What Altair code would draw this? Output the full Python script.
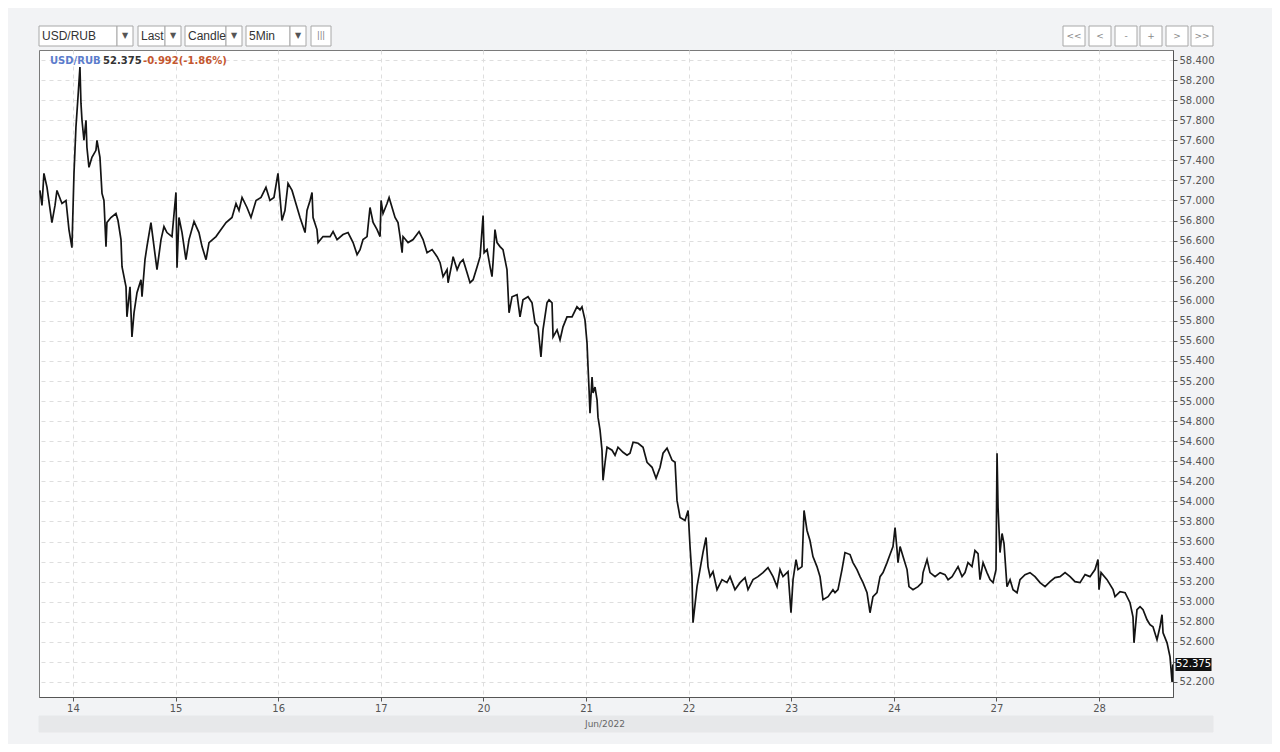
import json
import altair as alt
import pandas as pd

# ---------------- data (trading-day position, price) ----------------
day_pos = [
    -0.322, -0.302, -0.283, -0.253, -0.205, -0.175, -0.156, -0.107, -0.068, -0.039,
    -0.010, 0.010, 0.029, 0.049, 0.068, 0.078, 0.088, 0.107, 0.127, 0.136,
    0.156, 0.185, 0.224, 0.234, 0.263, 0.283, 0.302, 0.322, 0.331, 0.370,
    0.419, 0.439, 0.468, 0.478, 0.517, 0.526, 0.556, 0.575, 0.595, 0.624,
    0.663, 0.673, 0.702, 0.721, 0.760, 0.790, 0.819, 0.858, 0.887, 0.916,
    0.965, 1.004, 1.014, 1.033, 1.063, 1.101, 1.131, 1.180, 1.228, 1.258,
    1.297, 1.326, 1.394, 1.443, 1.492, 1.550, 1.589, 1.618, 1.648, 1.696,
    1.735, 1.784, 1.833, 1.881, 1.920, 1.959, 1.998, 2.037, 2.066, 2.096,
    2.135, 2.164, 2.213, 2.262, 2.281, 2.311, 2.330, 2.340, 2.378, 2.389,
    2.437, 2.506, 2.535, 2.574, 2.632, 2.681, 2.730, 2.769, 2.798, 2.827,
    2.866, 2.895, 2.925, 2.964, 2.993, 3.003, 3.022, 3.061, 3.081, 3.110,
    3.139, 3.168, 3.188, 3.208, 3.217, 3.266, 3.315, 3.373, 3.412, 3.451,
    3.500, 3.549, 3.578, 3.607, 3.646, 3.656, 3.695, 3.705, 3.744, 3.773,
    3.802, 3.841, 3.870, 3.900, 3.939, 3.968, 3.997, 4.007, 4.036, 4.065,
    4.084, 4.094, 4.113, 4.133, 4.162, 4.191, 4.230, 4.250, 4.279, 4.328,
    4.357, 4.386, 4.435, 4.474, 4.503, 4.532, 4.561, 4.581, 4.620, 4.640,
    4.669, 4.679, 4.718, 4.747, 4.776, 4.815, 4.864, 4.912, 4.942, 4.961,
    4.990, 5.010, 5.020, 5.030, 5.039, 5.059, 5.069, 5.088, 5.108, 5.117,
    5.137, 5.156, 5.166, 5.185, 5.205, 5.254, 5.283, 5.312, 5.361, 5.400,
    5.429, 5.459, 5.508, 5.556, 5.595, 5.644, 5.683, 5.722, 5.751, 5.790,
    5.839, 5.868, 5.887, 5.917, 5.965, 5.995, 6.014, 6.033, 6.043, 6.082,
    6.111, 6.140, 6.170, 6.189, 6.209, 6.238, 6.277, 6.326, 6.374, 6.404,
    6.452, 6.501, 6.550, 6.579, 6.628, 6.676, 6.725, 6.774, 6.823, 6.862,
    6.891, 6.920, 6.969, 6.998, 7.018, 7.047, 7.066, 7.105, 7.125, 7.154,
    7.183, 7.212, 7.251, 7.281, 7.310, 7.359, 7.407, 7.427, 7.456, 7.495,
    7.524, 7.573, 7.602, 7.641, 7.671, 7.700, 7.739, 7.768, 7.797, 7.836,
    7.866, 7.895, 7.934, 7.963, 7.992, 8.012, 8.031, 8.041, 8.061, 8.090,
    8.129, 8.148, 8.187, 8.236, 8.275, 8.285, 8.324, 8.353, 8.402, 8.451,
    8.499, 8.529, 8.568, 8.597, 8.626, 8.665, 8.694, 8.723, 8.762, 8.791,
    8.821, 8.840, 8.870, 8.908, 8.938, 8.967, 8.996, 9.006, 9.016, 9.035,
    9.055, 9.074, 9.103, 9.133, 9.162, 9.201, 9.230, 9.279, 9.327, 9.376,
    9.425, 9.474, 9.523, 9.571, 9.620, 9.669, 9.718, 9.766, 9.815, 9.864,
    9.912, 9.961, 9.990, 10.000, 10.020, 10.078, 10.137, 10.156, 10.205, 10.254,
    10.302, 10.331, 10.341, 10.370, 10.400, 10.429, 10.468, 10.497, 10.526, 10.565,
    10.594, 10.614, 10.624, 10.663, 10.692, 10.712, 10.720,
]
price = [
    57.10, 56.95, 57.27, 57.13, 56.78, 56.95, 57.10, 56.97, 57.00, 56.71,
    56.53, 57.27, 57.73, 58.03, 58.33, 57.97, 57.80, 57.60, 57.80, 57.53,
    57.33, 57.43, 57.50, 57.60, 57.43, 57.07, 57.00, 56.54, 56.78, 56.83,
    56.87, 56.80, 56.61, 56.34, 56.14, 55.84, 56.14, 55.64, 55.88, 56.08,
    56.21, 56.04, 56.41, 56.54, 56.78, 56.54, 56.31, 56.61, 56.74, 56.68,
    56.64, 57.08, 56.33, 56.83, 56.68, 56.41, 56.61, 56.79, 56.68, 56.54,
    56.41, 56.58, 56.64, 56.71, 56.78, 56.83, 56.97, 56.90, 57.03, 56.93,
    56.83, 57.00, 57.03, 57.13, 57.00, 57.03, 57.27, 56.80, 56.90, 57.17,
    57.10, 57.00, 56.83, 56.68, 56.90, 57.00, 57.08, 56.83, 56.71, 56.58,
    56.64, 56.64, 56.69, 56.61, 56.66, 56.68, 56.58, 56.46, 56.51, 56.61,
    56.64, 56.93, 56.78, 56.71, 56.64, 57.00, 56.87, 56.97, 57.03, 56.93,
    56.83, 56.78, 56.64, 56.48, 56.64, 56.58, 56.61, 56.69, 56.61, 56.48,
    56.51, 56.44, 56.38, 56.24, 56.31, 56.18, 56.38, 56.44, 56.31, 56.38,
    56.41, 56.28, 56.18, 56.21, 56.34, 56.44, 56.85, 56.48, 56.51, 56.34,
    56.24, 56.38, 56.71, 56.58, 56.54, 56.51, 56.31, 55.88, 56.04, 56.06,
    55.84, 56.01, 56.04, 55.98, 55.78, 55.74, 55.44, 55.71, 55.98, 56.01,
    55.98, 55.64, 55.71, 55.61, 55.74, 55.84, 55.84, 55.94, 55.91, 55.94,
    55.81, 55.58, 55.34, 55.11, 54.88, 55.24, 55.08, 55.14, 55.01, 54.84,
    54.71, 54.51, 54.21, 54.38, 54.54, 54.51, 54.46, 54.54, 54.49, 54.46,
    54.48, 54.59, 54.58, 54.54, 54.39, 54.34, 54.23, 54.34, 54.48, 54.53,
    54.41, 54.39, 54.01, 53.84, 53.81, 53.91, 53.55, 53.25, 52.79, 53.15,
    53.32, 53.49, 53.64, 53.35, 53.25, 53.30, 53.12, 53.22, 53.19, 53.25,
    53.12, 53.19, 53.24, 53.12, 53.22, 53.25, 53.29, 53.34, 53.25, 53.15,
    53.32, 53.25, 53.30, 52.89, 53.22, 53.42, 53.32, 53.35, 53.91, 53.71,
    53.61, 53.45, 53.35, 53.25, 53.02, 53.05, 53.12, 53.09, 53.12, 53.32,
    53.49, 53.47, 53.39, 53.32, 53.25, 53.19, 53.09, 52.89, 53.05, 53.09,
    53.25, 53.29, 53.39, 53.47, 53.55, 53.74, 53.52, 53.39, 53.55, 53.45,
    53.32, 53.15, 53.12, 53.15, 53.19, 53.29, 53.42, 53.29, 53.25, 53.29,
    53.27, 53.22, 53.25, 53.30, 53.35, 53.25, 53.29, 53.39, 53.35, 53.51,
    53.48, 53.22, 53.39, 53.29, 53.22, 53.19, 53.32, 54.48, 53.94, 53.49,
    53.68, 53.58, 53.15, 53.22, 53.12, 53.09, 53.22, 53.27, 53.29, 53.25,
    53.19, 53.15, 53.20, 53.24, 53.25, 53.29, 53.25, 53.20, 53.19, 53.27,
    53.25, 53.32, 53.42, 53.12, 53.29, 53.22, 53.12, 53.05, 53.10, 53.09,
    52.99, 52.85, 52.59, 52.92, 52.95, 52.92, 52.82, 52.77, 52.75, 52.62,
    52.75, 52.87, 52.69, 52.59, 52.45, 52.20, 52.375,
]

day_labels = ["14", "15", "16", "17", "20", "21", "22", "23", "24", "27", "28"]
price_ticks = [52.2, 52.4, 52.6, 52.8, 53.0, 53.2, 53.4, 53.6, 53.8, 54.0,
               54.2, 54.4, 54.6, 54.8, 55.0, 55.2, 55.4, 55.6, 55.8, 56.0,
               56.2, 56.4, 56.6, 56.8, 57.0, 57.2, 57.4, 57.6, 57.8, 58.0,
               58.2, 58.4]
last_price = [52.375]
symbol = "USD/RUB"
last_text = "52.375"
change_text = "-0.992(-1.86%)"
month_label = "Jun/2022"
toolbar_items = ["USD/RUB", "Last", "Candle", "5Min"]
nav_buttons = ["<<", "<", "-", "+", ">", ">>"]

df = pd.DataFrame({"t": day_pos, "v": price})
one = pd.DataFrame({"k": [0]})

W, H = 1134, 647
FONT = "DejaVu Sans"

x_scale = alt.Scale(domain=[-0.331, 10.721], nice=False, zero=False)
y_scale = alt.Scale(domain=[52.05, 58.5], nice=False, zero=False)

label_expr = json.dumps(day_labels) + "[datum.value]"
# the last-price badge covers the tick label nearest to it
y_label_expr = ("abs(datum.value - %s) < 0.1 ? '' : format(datum.value, '.3f')"
                % last_price[0])

axis_common = dict(title=None, grid=True, gridColor="#dedede", gridDash=[4, 4],
                   tickSize=4, tickColor="#555", domainColor="#555",
                   labelColor="#555", labelFontSize=10, labelFont=FONT,
                   labelPadding=2, labelOverlap=False, labelBound=False,
                   labelFlush=False)

y_axis = alt.Axis(orient="right", values=price_ticks, labelExpr=y_label_expr, **axis_common)
x_axis = alt.Axis(values=list(range(len(day_labels))), labelExpr=label_expr, **axis_common)

line = alt.Chart(df).mark_line(color="#141414", strokeWidth=1.7, clip=True).encode(
    x=alt.X("t:Q", scale=x_scale, axis=x_axis),
    y=alt.Y("v:Q", scale=y_scale, axis=y_axis),
)

# last-price marker on the right axis
lp = pd.DataFrame({"v": last_price, "txt": [last_text]})
lp_box = alt.Chart(lp).mark_point(
    shape="M-1,-0.36L1,-0.36L1,0.36L-1,0.36Z", filled=True, color="#111",
    size=1296, opacity=1).encode(x=alt.value(W + 20.5),
                                 y=alt.Y("v:Q", scale=y_scale, axis=y_axis))
lp_txt = alt.Chart(lp).mark_text(color="white", fontSize=10, font=FONT).encode(
    x=alt.value(W + 20.5), y=alt.Y("v:Q", scale=y_scale, axis=y_axis), text="txt:N")


def txt(x, y, s, **kw):
    return alt.Chart(one).mark_text(text=s, baseline="middle", **kw).encode(
        x=alt.value(x), y=alt.value(y))


def box(x0, x1, y0, y1, fill="white", stroke="#a8a8a8"):
    return alt.Chart(one).mark_rect(fill=fill, stroke=stroke, strokeWidth=1).encode(
        x=alt.value(x0), x2=alt.value(x1), y=alt.value(y0), y2=alt.value(y1))


legend = [
    txt(11, 11, symbol, align="left", font=FONT, fontSize=10, fontWeight="bold", color="#5b7ccc"),
    txt(64, 11, last_text, align="left", font=FONT, fontSize=10, fontWeight="bold", color="#333"),
    txt(104, 11, change_text, align="left", font=FONT, fontSize=10, fontWeight="bold", color="#c4572f"),
]

# toolbar
ui = []
tb_y0, tb_y1 = -24, -4
sel_boxes = [(0, 78, 94), (99, 126, 142), (146, 187, 203), (207, 251, 267)]
for name, (a, b, c) in zip(toolbar_items, sel_boxes):
    ui.append(box(a, b, tb_y0, tb_y1))
    ui.append(box(b, c, tb_y0, tb_y1))
    ui.append(txt(a + 3, -14, name, align="left", font="Liberation Sans", fontSize=12, color="#333"))
    ui.append(txt((b + c) / 2, -14, "▼", align="center", font=FONT, fontSize=8, color="#555"))
ui.append(box(272, 292, tb_y0, tb_y1))
ui.append(txt(282, -14, "|||", align="center", font=FONT, fontSize=8, color="#777"))

nav_x = [1024, 1050, 1076, 1101, 1127, 1152]
for s, a in zip(nav_buttons, nav_x):
    ui.append(box(a, a + 22, tb_y0, tb_y1))
    ui.append(txt(a + 11, -14, s, align="center", font=FONT, fontSize=9, color="#888"))

# month band below the axis
ui.append(box(0, 1174, 666, 682, fill="#e7e8ea", stroke="#e7e8ea"))
ui.append(txt(566, 674, month_label, align="center", font=FONT, fontSize=9, color="#666"))

chart = alt.layer(line, lp_box, lp_txt, *legend, *ui).properties(
    width=W, height=H,
    padding={"left": 31, "top": 42, "right": 99, "bottom": 47},
    autosize=alt.AutoSizeParams(type="none"),
    background="#f2f3f5",
).configure_view(fill="white", stroke="#7a7a7a", strokeWidth=1)

chart.save("out.html", embed_options={"renderer": "svg", "actions": False})
